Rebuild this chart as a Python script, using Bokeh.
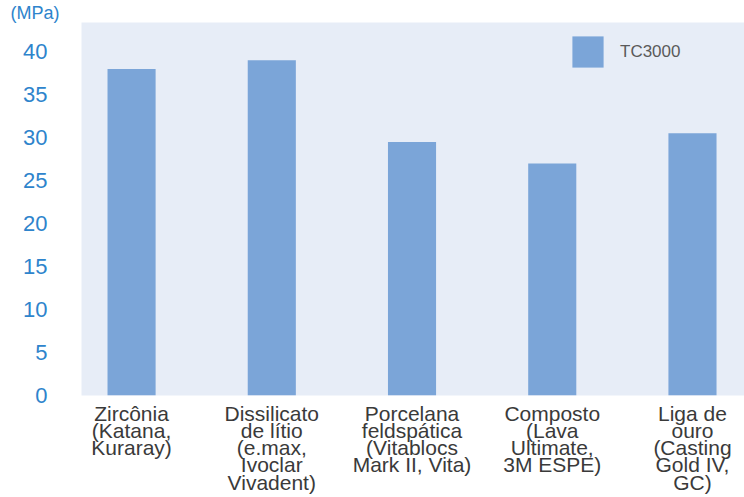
from bokeh.plotting import figure
from bokeh.models import FixedTicker, Range1d, Title, Legend, LegendItem
from bokeh.embed import file_html
from bokeh.resources import INLINE

categories = ["Zircônia\n(Katana,\nKuraray)",
              "Dissilicato\nde lítio\n(e.max,\nIvoclar\nVivadent)",
              "Porcelana\nfeldspática\n(Vitablocs\nMark II, Vita)",
              "Composto\n(Lava\nUltimate,\n3M ESPE)",
              "Liga de\nouro\n(Casting\nGold IV,\nGC)"]
values = [38.0, 39.0, 29.5, 27.0, 30.5]
series_name = "TC3000"
unit_text = "(MPa)"
y_ticks = [0, 5, 10, 15, 20, 25, 30, 35, 40]

BLUE_TXT = "#2E84CC"
BAR = "#7BA5D8"
BG = "#E7EDF7"

xs = list(range(len(categories)))

p = figure(width=744, height=497, output_backend="svg", toolbar_location=None,
           x_range=Range1d(-0.357, 4.371), y_range=Range1d(0, 43.4),
           min_border_left=81, min_border_right=0, min_border_top=19,
           min_border_bottom=102)
p.background_fill_color = BG
p.border_fill_color = "white"
p.outline_line_color = None
p.grid.visible = False

p.add_layout(Title(text=unit_text, align="left", offset=-71, standoff=0,
                   text_color=BLUE_TXT, text_font="Liberation Sans",
                   text_font_size="18px", text_font_style="normal",
                   vertical_align="bottom"), "above")

r = p.vbar(x=xs, top=values, width=0.343, fill_color=BAR, line_color=None)

# y axis
p.yaxis.ticker = FixedTicker(ticks=y_ticks)
p.yaxis.axis_line_color = None
p.yaxis.major_tick_line_color = None
p.yaxis.minor_tick_line_color = None
p.yaxis.major_label_standoff = 28
p.yaxis.major_label_text_color = BLUE_TXT
p.yaxis.major_label_text_font = "Liberation Sans"
p.yaxis.major_label_text_font_size = "22px"

# x axis
p.xaxis.ticker = FixedTicker(ticks=xs)
p.xaxis.major_label_overrides = {i: c for i, c in zip(xs, categories)}
p.xaxis.axis_line_color = None
p.xaxis.major_tick_line_color = None
p.xaxis.minor_tick_line_color = None
p.xaxis.major_label_standoff = 0
p.xaxis.major_label_text_color = "#3A3A3A"
p.xaxis.major_label_text_font = "Liberation Sans"
p.xaxis.major_label_text_font_size = "21px"
p.xaxis.major_label_text_line_height = 0.75

legend = Legend(items=[LegendItem(label=series_name, renderers=[r])],
                location=(487, 324), padding=0, margin=0, border_line_color=None,
                background_fill_alpha=0, glyph_width=39, glyph_height=39,
                label_standoff=13, label_text_font="Liberation Sans",
                label_text_font_size="17px", label_text_color="#5A5A5A")
p.add_layout(legend)

open("out.html", "w").write(file_html(p, INLINE))
